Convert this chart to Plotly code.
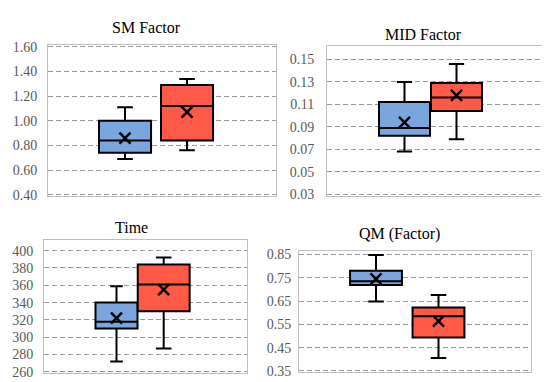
import plotly.graph_objects as go

W, H = 550, 382

groups = ["Group A", "Group B"]
colors = ["#7AA6DD", "#FF5A48"]

titles = ["SM Factor", "MID Factor", "Time", "QM (Factor)"]

# SM Factor
sm_lower = [0.69, 0.76]
sm_q1 = [0.74, 0.84]
sm_median = [0.84, 1.12]
sm_q3 = [1.00, 1.29]
sm_upper = [1.11, 1.34]
sm_mean = [0.86, 1.07]

# MID Factor
mid_lower = [0.068, 0.079]
mid_q1 = [0.082, 0.104]
mid_median = [0.089, 0.116]
mid_q3 = [0.112, 0.129]
mid_upper = [0.130, 0.146]
mid_mean = [0.094, 0.118]

# Time
time_lower = [272, 287]
time_q1 = [310, 330]
time_median = [318, 361]
time_q3 = [340, 384]
time_upper = [359, 392]
time_mean = [322, 355]

# QM (Factor)
qm_lower = [0.648, 0.405]
qm_q1 = [0.719, 0.494]
qm_median = [0.735, 0.585]
qm_q3 = [0.780, 0.622]
qm_upper = [0.848, 0.676]
qm_mean = [0.746, 0.564]

panels = [
    dict(stats=(sm_lower, sm_q1, sm_median, sm_q3, sm_upper, sm_mean),
         px=(40, 268), py=(32.5, 188), yr=[0.388, 1.612], tick0=0.40, dtick=0.20, fmt=".2f",
         xr=[-1.242, 2.435], widths=[0.84, 0.84], title_xy=(138, 14), standoff=7),
    dict(stats=(mid_lower, mid_q1, mid_median, mid_q3, mid_upper, mid_mean),
         px=(319, 543), py=(33, 187.5), yr=[0.0287, 0.162], tick0=0.03, dtick=0.02, fmt=".2f",
         xr=[-1.49, 2.817], widths=[0.98, 0.98], title_xy=(415, 21), standoff=9),
    dict(stats=(time_lower, time_q1, time_median, time_q3, time_upper, time_mean),
         px=(36, 239), py=(233.6, 371), yr=[258.3, 412], tick0=260, dtick=20, fmt="d",
         xr=[-1.536, 2.765], widths=[0.89, 1.10], title_xy=(123, 220), standoff=7),
    dict(stats=(qm_lower, qm_q1, qm_median, qm_q3, qm_upper, qm_mean),
         px=(291, 523), py=(245, 370), yr=[0.3437, 0.864], tick0=0.35, dtick=0.10, fmt=".2f",
         xr=[-1.232, 2.48], widths=[0.83, 0.83], title_xy=(391, 227), standoff=4),
]

fig = go.Figure()
layout = dict(width=W, height=H, margin=dict(l=0, r=0, t=0, b=0),
              paper_bgcolor="white", plot_bgcolor="white", showlegend=False,
              annotations=[])

for i, p in enumerate(panels):
    n = "" if i == 0 else str(i + 1)
    xa, ya = "x" + n, "y" + n
    lower, q1, med, q3, upper, mean = p["stats"]
    for j, g in enumerate(groups):
        fig.add_trace(go.Box(
            x=[g], q1=[q1[j]], median=[med[j]], q3=[q3[j]],
            lowerfence=[lower[j]], upperfence=[upper[j]],
            width=p["widths"][j], whiskerwidth=0.3,
            fillcolor=colors[j], line=dict(color="black", width=2),
            boxpoints=False, xaxis=xa, yaxis=ya, hoverinfo="skip"))
        fig.add_trace(go.Scatter(
            x=[g], y=[mean[j]], mode="markers",
            marker=dict(symbol="x-thin", size=11, color="black",
                        line=dict(color="black", width=2.5)),
            xaxis=xa, yaxis=ya, cliponaxis=False, hoverinfo="skip"))
    x0, x1 = p["px"]
    y0, y1 = p["py"]
    layout["xaxis" + n] = dict(
        domain=[x0 / W, x1 / W], anchor=ya, type="category", categoryarray=groups,
        range=p["xr"], showticklabels=False, showgrid=False, zeroline=False,
        showline=True, mirror=True, linecolor="#BFBFBF", linewidth=1, ticks="")
    layout["yaxis" + n] = dict(
        domain=[1 - y1 / H, 1 - y0 / H], anchor=xa, range=p["yr"],
        tick0=p["tick0"], dtick=p["dtick"], tickformat=p["fmt"],
        showgrid=True, gridcolor="#9A9A9A", gridwidth=1, griddash="5px,3px",
        zeroline=False, showline=True, mirror=True, linecolor="#BFBFBF", linewidth=1,
        ticks="", ticklabelstandoff=p["standoff"],
        tickfont=dict(family="Liberation Serif", size=14, color="#595959"))
    tx, ty = p["title_xy"]
    layout["annotations"].append(dict(
        text=titles[i], x=tx / W, y=1 - ty / H, xref="paper", yref="paper",
        xanchor="center", yanchor="middle", showarrow=False,
        font=dict(family="Liberation Serif", size=16, color="black")))

fig.update_layout(**layout)
fig.write_html("out.html")
